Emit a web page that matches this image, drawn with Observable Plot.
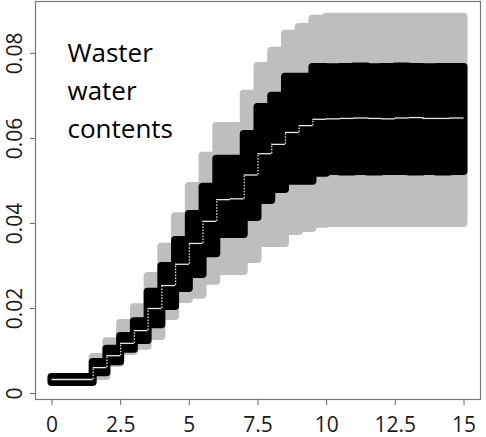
<!DOCTYPE html>
<html><head><meta charset="utf-8">
<script src="https://cdn.jsdelivr.net/npm/d3@7"></script>
<script src="https://cdn.jsdelivr.net/npm/@observablehq/plot@0.6"></script>
<style>html,body{margin:0;padding:0;background:#fff;} #chart{width:486px;height:437px;}</style>
</head><body><div id="chart"></div>
<script>
const times = [0,1.5,2,2.5,3,3.5,4,4.5,5,5.5,6,6.5,7,7.5,8,8.5,9,9.5,10,10.5,11,11.5,12,12.5,13,13.5,14,14.5,15];
const median = [0.0033,0.0061,0.0089,0.0118,0.0148,0.0200,0.0254,0.0304,0.0353,0.0405,0.0456,0.0458,0.0514,0.0564,0.0586,0.0614,0.0630,0.0645,0.0646,0.0647,0.0648,0.0647,0.0646,0.0648,0.0649,0.0647,0.0647,0.0648,0.0648];
const innerHigh = [0.0038,0.0073,0.0104,0.0134,0.0169,0.0238,0.0299,0.0360,0.0421,0.0485,0.0551,0.0551,0.0609,0.0673,0.0699,0.0744,0.0744,0.0767,0.0766,0.0767,0.0768,0.0766,0.0767,0.0768,0.0767,0.0766,0.0767,0.0767,0.0767];
const innerLow = [0.0026,0.0049,0.0075,0.0104,0.0125,0.0162,0.0205,0.0247,0.0280,0.0329,0.0374,0.0374,0.0414,0.0454,0.0480,0.0499,0.0499,0.0518,0.0522,0.0521,0.0522,0.0521,0.0522,0.0522,0.0521,0.0522,0.0521,0.0522,0.0522];
const outerHigh = [0.0036,0.0085,0.0122,0.0165,0.0202,0.0275,0.0344,0.0416,0.0487,0.0558,0.0628,0.0628,0.0704,0.0769,0.0805,0.0845,0.0861,0.0880,0.0885,0.0885,0.0885,0.0885,0.0885,0.0885,0.0885,0.0885,0.0885,0.0885,0.0885];
const outerLow = [0.0030,0.0040,0.0071,0.0099,0.0111,0.0134,0.0181,0.0221,0.0231,0.0264,0.0287,0.0287,0.0315,0.0353,0.0353,0.0381,0.0388,0.0398,0.0400,0.0400,0.0400,0.0400,0.0400,0.0400,0.0400,0.0400,0.0400,0.0400,0.0400];
const xTicks = [0,2.5,5,7.5,10,12.5,15];
const yTicks = [0,0.02,0.04,0.06,0.08];
const label = "Waster\nwater\ncontents";

const rows = times.map((t, i) => ({t, ih: innerHigh[i], il: innerLow[i], oh: outerHigh[i], ol: outerLow[i]}));
const segs = times.slice(0, -1).map((t, i) => ({t0: t, t1: times[i + 1], m: median[i]}));
const risers = times.slice(1, -1).map((t, i) => ({t, a: median[i], b: median[i + 1]}));

const chart = Plot.plot({
  width: 486, height: 437,
  marginLeft: 35, marginRight: 6, marginTop: 1, marginBottom: 38,
  style: {fontFamily: "'Open Sans', sans-serif", fontSize: "21px", color: "#1a1a1a", background: "#fff"},
  x: {domain: [-0.6, 15.6]},
  y: {domain: [-0.0014, 0.0922]},
  marks: [
    Plot.areaY(rows, {x: "t", y1: "ol", y2: "oh", curve: "step-after", fill: "#bebebe", stroke: "#bebebe", strokeWidth: 8, strokeLinejoin: "round"}),
    Plot.areaY(rows, {x: "t", y1: "il", y2: "ih", curve: "step-after", fill: "#000", stroke: "#000", strokeWidth: 8, strokeLinejoin: "round"}),
    Plot.ruleY(segs, {y: "m", x1: "t0", x2: "t1", stroke: "#e6e6e6", strokeWidth: 1.3}),
    Plot.ruleX(risers, {x: "t", y1: "a", y2: "b", stroke: "#e6e6e6", strokeWidth: 1.3, strokeDasharray: "1.5,1.5"}),
    Plot.frame({stroke: "#777", strokeWidth: 1.2}),
    Plot.axisX(xTicks, {tickSize: 6, tickPadding: 12, tickFormat: d => String(d), stroke: "#666", fontSize: 21, fill: "#1a1a1a"}),
    Plot.axisY(yTicks, {tickSize: 5, tickRotate: -90, tickPadding: 8.5, tickFormat: d => String(d), stroke: "#666", fontSize: 21, fill: "#1a1a1a"}),
    Plot.text([label], {frameAnchor: "top-left", dx: 32, dy: 33.5, text: d => d, fontSize: 26, lineHeight: 1.46, fill: "#000"})
  ]
});
document.getElementById("chart").appendChild(chart);
</script>
</body></html>
